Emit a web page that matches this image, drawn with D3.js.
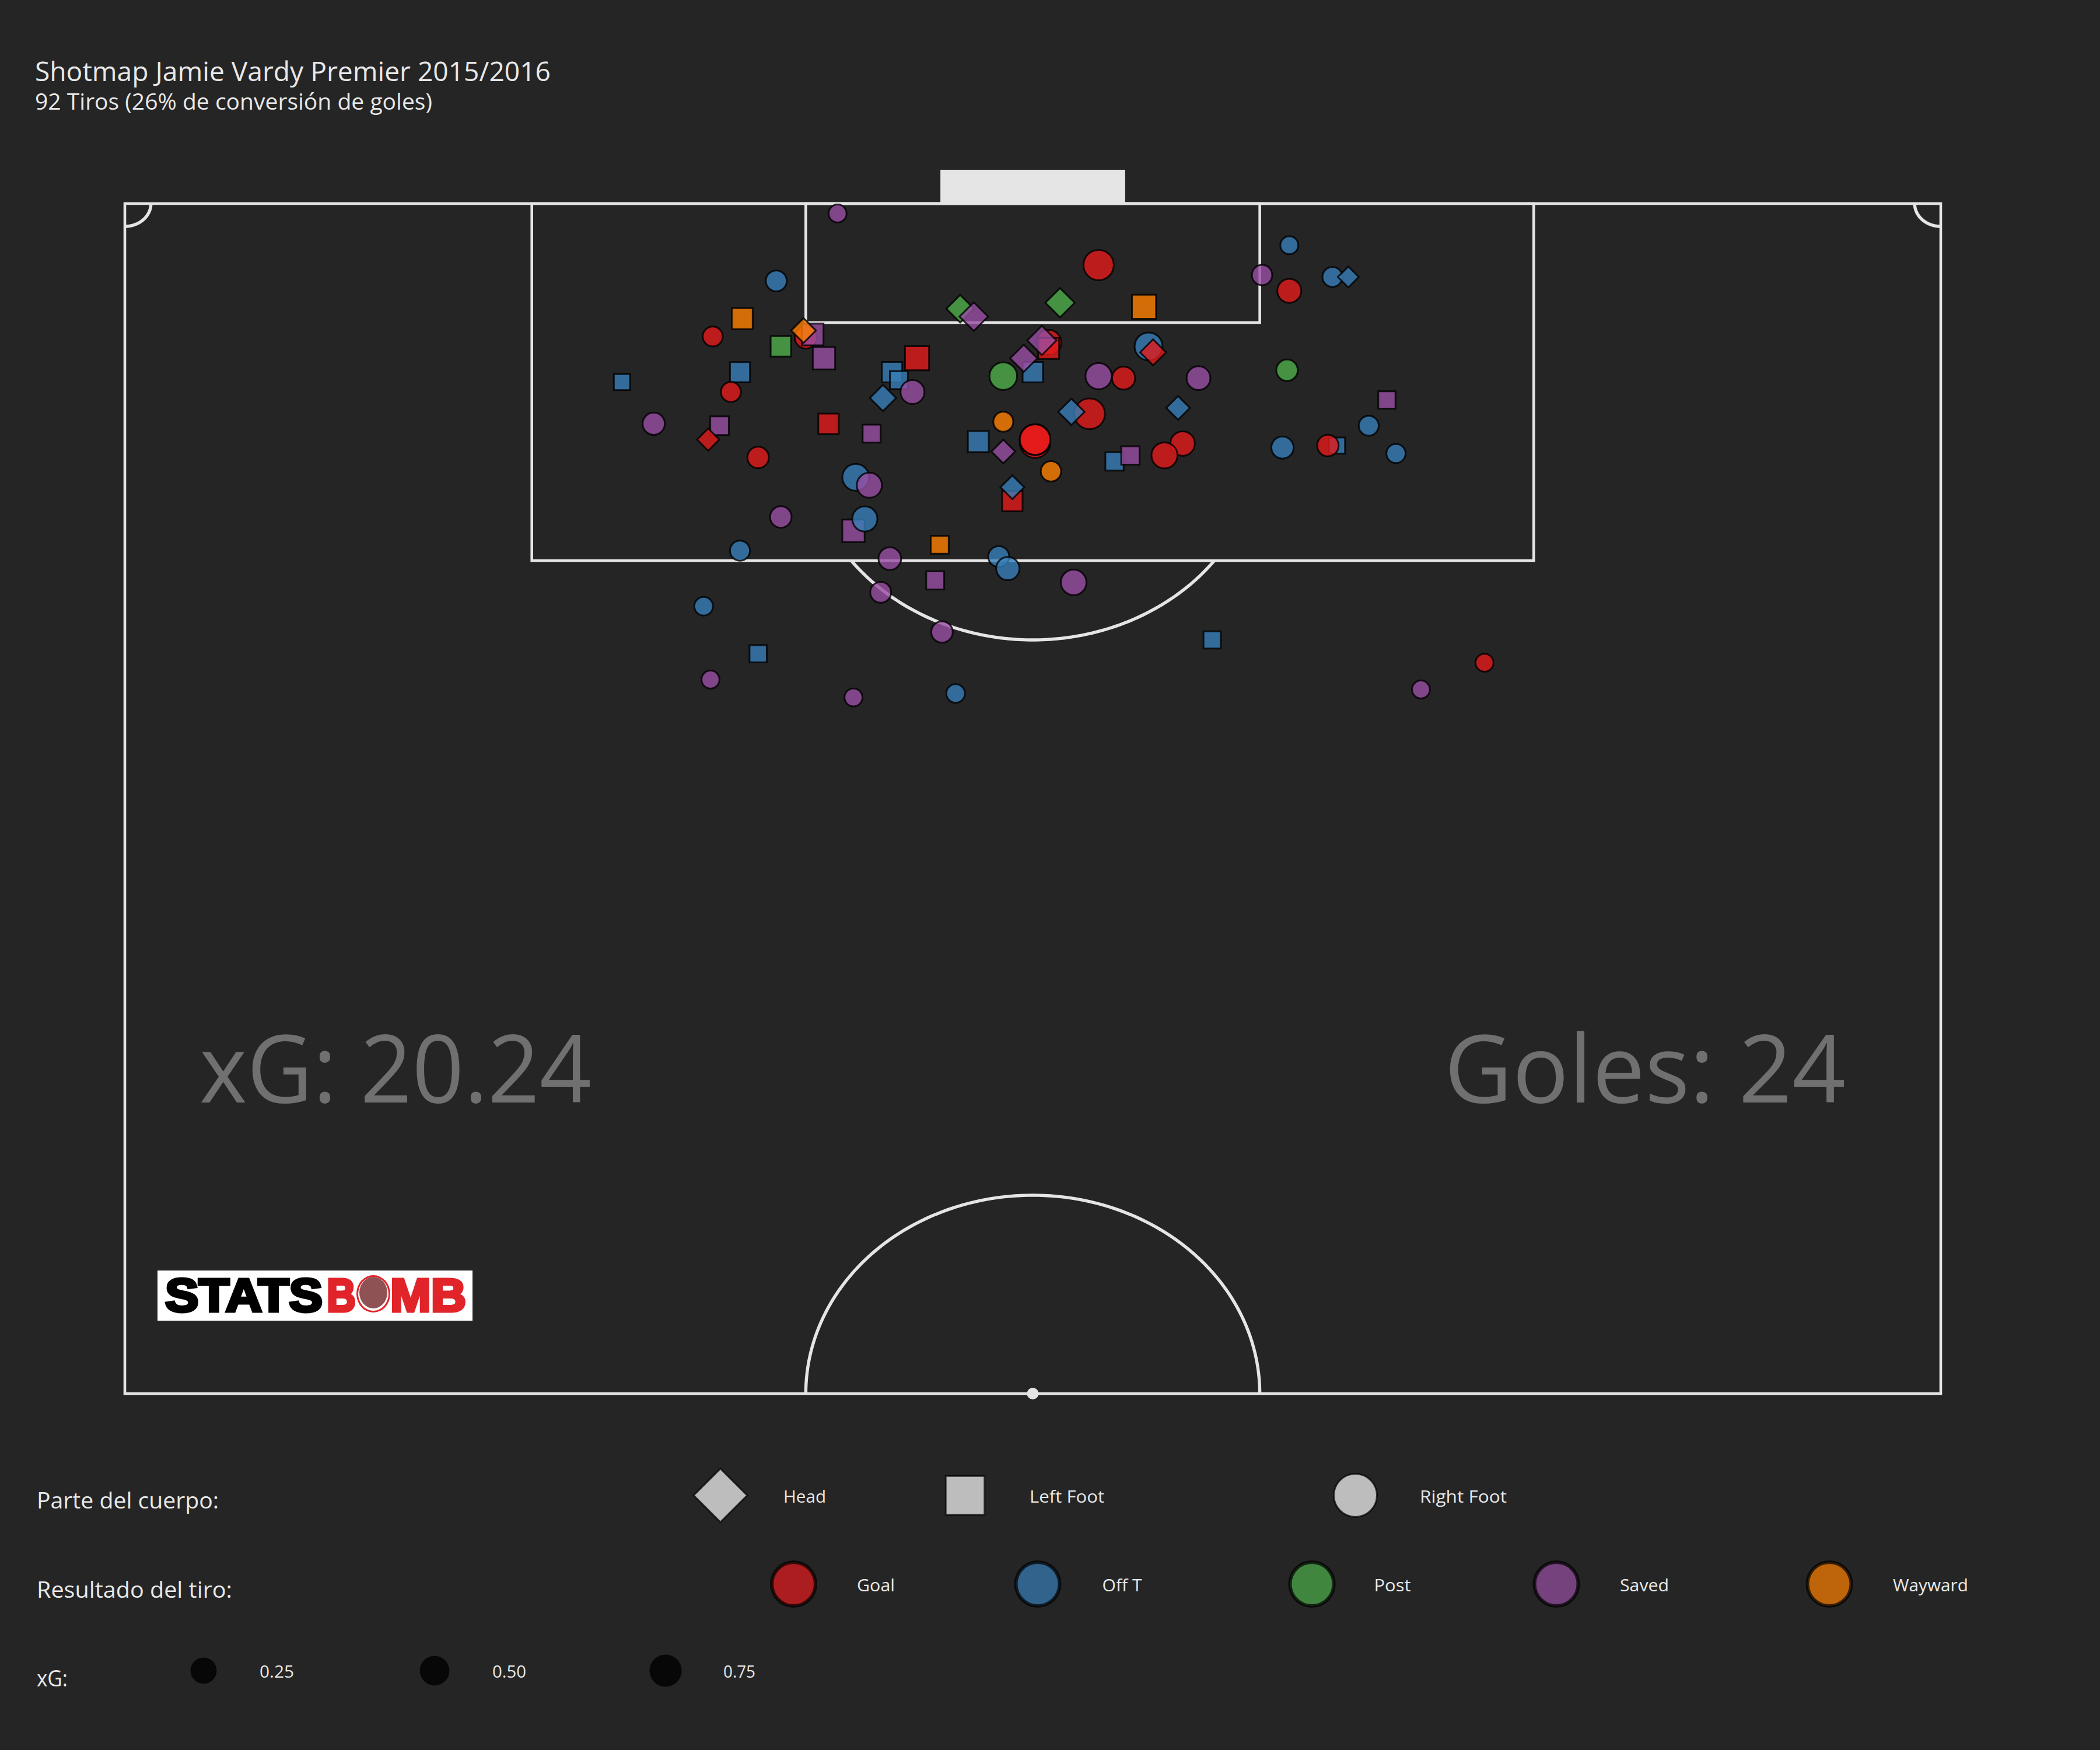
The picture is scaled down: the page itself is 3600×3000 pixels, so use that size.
<!DOCTYPE html>
<html>

<head>
    <meta charset="utf-8">
    <style>
        html, body {
            margin: 0;
            padding: 0;
            background: #252525;
        }

        svg {
            display: block;
        }

        text {
            font-family: 'Open Sans', sans-serif;
        }
    </style>
</head>

<body>
    <svg width="3600" height="3000"></svg>
</body>

<script src="https://d3js.org/d3.v7.min.js"></script>

<script>
    // shots, x across the pitch (0-80), y out from the goal line (0-60)
    let shotX = [
        31.4, 28.7, 27.2, 25.9, 30.0, 30.3, 29.9, 28.9, 30.8, 33.8, 34.9, 34.1, 34.7, 33.4, 27.1, 21.9,
        26.7, 23.3, 26.2, 25.7, 31.0, 32.9, 27.9, 32.2, 32.8, 36.8, 37.4, 37.6, 42.9, 41.2, 44.9, 51.3,
        50.1, 51.3, 53.2, 53.9, 51.2, 55.6, 54.8, 56.0, 53.4, 53.0, 51.0, 46.6, 45.8, 43.6, 44.3, 46.4,
        47.3, 42.9, 44.0, 45.1, 45.3, 40.7, 40.7, 40.4, 40.0, 39.6, 38.7, 42.5, 41.7, 38.7, 40.1, 40.1,
        40.1, 40.1, 40.1, 38.7, 40.8, 39.1, 39.1, 28.9, 32.1, 32.6, 35.9, 27.1, 33.7, 38.5, 38.9, 35.7,
        41.8, 33.3, 25.5, 36.0, 27.9, 47.9, 25.8, 32.1, 36.6, 59.9, 57.1
    ];
    let shotY = [
        0.5, 3.9, 5.8, 6.7, 6.75, 6.6, 6.4, 7.2, 7.8, 8.5, 7.8, 8.9, 9.5, 9.8, 8.5, 9.0,
        9.5, 11.1, 11.2, 11.9, 11.1, 11.6, 12.8, 13.8, 14.2, 5.3, 5.7, 12.0, 3.1, 5.0, 5.2, 2.1,
        3.6, 4.4, 3.7, 3.7, 8.4, 9.9, 11.2, 12.6, 12.2, 12.2, 12.3, 12.1, 12.7, 13.0, 12.7, 10.3,
        8.8, 8.7, 8.8, 7.2, 7.5, 7.0, 7.3, 6.9, 8.5, 7.8, 8.7, 10.6, 10.5, 11.0, 12.05, 11.9,
        11.9, 11.9, 11.9, 12.5, 13.5, 15.0, 14.3, 15.8, 16.5, 15.9, 17.2, 17.5, 17.9, 17.8, 18.4, 19.0,
        19.1, 19.6, 20.3, 21.6, 22.7, 22.0, 24.0, 24.9, 24.7, 23.15, 24.5
    ];
    let shotXg = [
        0.01, 0.08, 0.18, 0.05, 0.13, 0.23, 0.05, 0.15, 0.27, 0.15, 0.41, 0.05, 0.22, 0.09, 0.13, 0.01,
        0.05, 0.13, 0.07, 0.01, 0.15, 0.05, 0.10, 0.41, 0.29, 0.13, 0.17, 0.18, 0.73, 0.20, 0.41, 0.01,
        0.06, 0.22, 0.05, 0.001, 0.10, 0.03, 0.05, 0.03, 0.01, 0.10, 0.13, 0.25, 0.35, 0.06, 0.06, 0.03,
        0.21, 0.37, 0.17, 0.50, 0.08, 0.29, 0.18, 0.20, 0.15, 0.12, 0.48, 0.78, 0.09, 0.05, 0.76, 0.76,
        0.76, 0.76, 0.76, 0.03, 0.06, 0.15, 0.03, 0.10, 0.27, 0.29, 0.05, 0.05, 0.15, 0.08, 0.18, 0.05,
        0.32, 0.08, 0.02, 0.10, 0.03, 0.03, 0.01, 0.01, 0.02, 0.01, 0.01
    ];
    let shotBody = [
        "R", "R", "L", "R", "R", "L", "H", "L", "L", "L", "L", "L", "R", "H", "L", "L",
        "R", "R", "L", "H", "L", "L", "R", "R", "R", "H", "H", "L", "R", "H", "L", "R",
        "R", "R", "R", "H", "R", "L", "R", "R", "L", "R", "R", "R", "R", "L", "L", "H",
        "R", "R", "R", "R", "H", "R", "L", "H", "L", "H", "R", "R", "H", "R", "R", "R",
        "R", "R", "R", "H", "R", "L", "H", "R", "L", "R", "L", "R", "R", "R", "R", "L",
        "R", "R", "R", "R", "L", "L", "R", "R", "R", "R", "R"
    ];
    let shotOutcome = [
        "Saved", "Off T", "Wayward", "Goal", "Goal", "Saved", "Wayward", "Post", "Saved", "Off T", "Goal", "Off T", "Saved", "Off T", "Off T", "Off T",
        "Goal", "Saved", "Saved", "Goal", "Goal", "Saved", "Goal", "Off T", "Saved", "Post", "Saved", "Off T", "Goal", "Post", "Wayward", "Off T",
        "Saved", "Goal", "Off T", "Off T", "Post", "Saved", "Off T", "Off T", "Off T", "Goal", "Off T", "Goal", "Goal", "Off T", "Saved", "Off T",
        "Saved", "Saved", "Goal", "Off T", "Goal", "Goal", "Goal", "Saved", "Off T", "Saved", "Post", "Goal", "Off T", "Wayward", "Goal", "Goal",
        "Goal", "Goal", "Goal", "Saved", "Wayward", "Goal", "Off T", "Saved", "Saved", "Off T", "Wayward", "Off T", "Saved", "Off T", "Off T", "Saved",
        "Saved", "Saved", "Off T", "Saved", "Off T", "Off T", "Saved", "Saved", "Off T", "Goal", "Saved"
    ];

    let bodyParts = ["Head", "Left Foot", "Right Foot"];
    let bodyCodes = ["H", "L", "R"];
    let outcomes = ["Goal", "Off T", "Post", "Saved", "Wayward"];
    let outcomeColors = ["#E41A1C", "#377EB8", "#4DAF4A", "#984EA3", "#FF7F00"];
    let xgTicks = [0.25, 0.5, 0.75];

    let bg = "#252525";
    let lineColor = "#e5e5e5";
    let lineWidth = 4.6;

    let svg = d3.select("svg");

    svg.append("rect")
        .attr("width", 3600)
        .attr("height", 3000)
        .attr("fill", bg);

    let xScale = d3.scaleLinear().domain([0, 80]).range([214, 3327]);
    let yScale = d3.scaleLinear().domain([0, 60]).range([349, 2389]);
    let sizeScale = d3.scaleSqrt().domain([0, 1]).range([31, 59]);
    let colorScale = d3.scaleOrdinal().domain(outcomes).range(outcomeColors);

    // pitch
    let pitch = svg.append("g")
        .attr("fill", "none")
        .attr("stroke", lineColor)
        .attr("stroke-width", lineWidth);

    function box(x0, y0, x1, y1) {
        pitch.append("rect")
            .attr("x", xScale(x0))
            .attr("y", yScale(y0))
            .attr("width", xScale(x1) - xScale(x0))
            .attr("height", yScale(y1) - yScale(y0));
    }

    function arc(cx, cy, r, a0, a1) {
        let line = d3.line()
            .x(a => xScale(cx + r * Math.sin(a)))
            .y(a => yScale(cy - r * Math.cos(a)));
        pitch.append("path")
            .attr("stroke-width", 5.4)
            .attr("d", line(d3.range(a0, a1, (a1 - a0) / 120).concat(a1)));
    }

    box(0, 0, 80, 60);
    box(17.93, 0, 62.07, 18);
    box(30, 0, 50, 6);

    let penAngle = Math.acos(6 / 10);
    arc(40, 12, 10, Math.PI - penAngle, Math.PI + penAngle);
    arc(40, 60, 10, -Math.PI / 2, Math.PI / 2);
    arc(0, 0, 1.15, Math.PI / 2, Math.PI);
    arc(80, 0, 1.15, Math.PI, Math.PI * 1.5);

    svg.append("circle")
        .attr("cx", xScale(40))
        .attr("cy", yScale(60))
        .attr("r", 10)
        .attr("fill", lineColor);

    // goal
    svg.append("rect")
        .attr("x", xScale(35.93))
        .attr("y", 291)
        .attr("width", xScale(44.07) - xScale(35.93))
        .attr("height", 60)
        .attr("fill", lineColor);

    function symbolPath(code, d) {
        if (code == "R") {
            let r = d / 2;
            return "M" + (-r) + ",0A" + r + "," + r + " 0 1,1 " + r + ",0A" + r + "," + r + " 0 1,1 " + (-r) + ",0Z";
        }
        if (code == "L") {
            let s = d * 0.45;
            return "M" + (-s) + "," + (-s) + "H" + s + "V" + s + "H" + (-s) + "Z";
        }
        let t = d * 0.62;
        return "M0," + (-t) + "L" + t + ",0L0," + t + "L" + (-t) + ",0Z";
    }

    // shots
    svg.append("g")
        .selectAll("path")
        .data(d3.range(shotX.length))
        .join("path")
        .attr("transform", i => "translate(" + xScale(shotX[i]) + "," + yScale(shotY[i]) + ")")
        .attr("d", i => symbolPath(shotBody[i], sizeScale(shotXg[i]) - 3))
        .attr("fill", i => colorScale(shotOutcome[i]))
        .attr("fill-opacity", 0.8)
        .attr("stroke", "#000")
        .attr("stroke-opacity", 0.8)
        .attr("stroke-width", 3);

    // titles
    svg.append("text")
        .attr("x", 60).attr("y", 139)
        .attr("font-size", 46)
        .attr("fill", "#e8e8e8")
        .attr("textLength", 884)
        .attr("lengthAdjust", "spacingAndGlyphs")
        .text("Shotmap Jamie Vardy Premier 2015/2016");

    svg.append("text")
        .attr("x", 60).attr("y", 188)
        .attr("font-size", 39)
        .attr("fill", "#e8e8e8")
        .attr("textLength", 681)
        .attr("lengthAdjust", "spacingAndGlyphs")
        .text("92 Tiros (26% de conversión de goles)");

    // totals on the pitch
    svg.append("text")
        .attr("x", 342).attr("y", 1890)
        .attr("font-size", 162)
        .attr("fill", "#707070")
        .attr("textLength", 672)
        .attr("lengthAdjust", "spacingAndGlyphs")
        .text("xG: 20.24");

    svg.append("text")
        .attr("x", 2476).attr("y", 1890)
        .attr("font-size", 162)
        .attr("fill", "#707070")
        .attr("textLength", 688)
        .attr("lengthAdjust", "spacingAndGlyphs")
        .text("Goles: 24");

    // statsbomb logo
    let logo = svg.append("g");

    logo.append("rect")
        .attr("x", 270).attr("y", 2178)
        .attr("width", 540).attr("height", 86)
        .attr("fill", "#fff");

    function logoText(x, len, str, color) {
        logo.append("text")
            .attr("x", x).attr("y", 2248)
            .attr("textLength", len)
            .attr("lengthAdjust", "spacingAndGlyphs")
            .attr("font-size", 80)
            .attr("font-weight", 700)
            .attr("fill", color)
            .attr("stroke", color)
            .attr("stroke-width", 5)
            .style("font-family", "'Liberation Sans', sans-serif")
            .text(str);
    }

    logoText(283, 270, "STATS", "#000");
    logoText(560, 50, "B", "#e1242a");
    logoText(669, 130, "MB", "#e1242a");

    logo.append("ellipse").attr("cx", 640).attr("cy", 2218).attr("rx", 29).attr("ry", 32).attr("fill", "#e1242a");
    logo.append("ellipse").attr("cx", 640).attr("cy", 2218).attr("rx", 26).attr("ry", 29).attr("fill", "#fff");
    logo.append("ellipse").attr("cx", 640).attr("cy", 2216).attr("rx", 24).attr("ry", 27).attr("fill", "#8f5254");

    // legends
    let legend = svg.append("g");

    function legendTitle(y, str, len) {
        legend.append("text")
            .attr("x", 63).attr("y", y)
            .attr("font-size", 38)
            .attr("fill", "#e8e8e8")
            .attr("textLength", len)
            .attr("lengthAdjust", "spacingAndGlyphs")
            .text(str);
    }

    function legendLabel(x, y, str, len) {
        legend.append("text")
            .attr("x", x).attr("y", y)
            .attr("dominant-baseline", "central")
            .attr("font-size", 30)
            .attr("fill", "#e8e8e8")
            .attr("textLength", len)
            .attr("lengthAdjust", "spacingAndGlyphs")
            .text(str);
    }

    legendTitle(2586, "Parte del cuerpo:", 312);
    legendTitle(2739, "Resultado del tiro:", 335);
    legendTitle(2891, "xG:", 53);

    let bodyKeyX = [1235, 1654.5, 2323.5];
    let bodyLabelX = [1343, 1765, 2434];
    let bodyLabelLen = [73, 128, 149];
    bodyParts.forEach((part, i) => {
        legend.append("path")
            .attr("transform", "translate(" + bodyKeyX[i] + ",2563.5)")
            .attr("d", symbolPath(bodyCodes[i], 74))
            .attr("fill", "#bdbdbd")
            .attr("stroke", "#000")
            .attr("stroke-opacity", 0.7)
            .attr("stroke-width", 3);
        legendLabel(bodyLabelX[i], 2564.5, part, bodyLabelLen[i]);
    });

    let outcomeKeyX = [1360.5, 1779, 2249, 2668, 3136];
    let outcomeLabelX = [1469, 1889.5, 2355.5, 2777, 3245];
    let outcomeLabelLen = [65, 68, 63, 84, 129];
    outcomes.forEach((name, i) => {
        legend.append("circle")
            .attr("cx", outcomeKeyX[i])
            .attr("cy", 2715.5)
            .attr("r", 37.5)
            .attr("fill", colorScale(name))
            .attr("fill-opacity", 0.7)
            .attr("stroke", "#000")
            .attr("stroke-opacity", 0.7)
            .attr("stroke-width", 6);
        legendLabel(outcomeLabelX[i], 2716, name, outcomeLabelLen[i]);
    });

    let xgKeyX = [349, 745, 1141];
    let xgLabelX = [445, 844, 1240];
    let xgLabelLen = [59, 58, 55];
    xgTicks.forEach((v, i) => {
        legend.append("circle")
            .attr("cx", xgKeyX[i])
            .attr("cy", 2864)
            .attr("r", sizeScale(v) / 2)
            .attr("fill", "#000")
            .attr("fill-opacity", 0.8);
        legendLabel(xgLabelX[i], 2864.5, d3.format(".2f")(v), xgLabelLen[i]);
    });
</script>

</html>
